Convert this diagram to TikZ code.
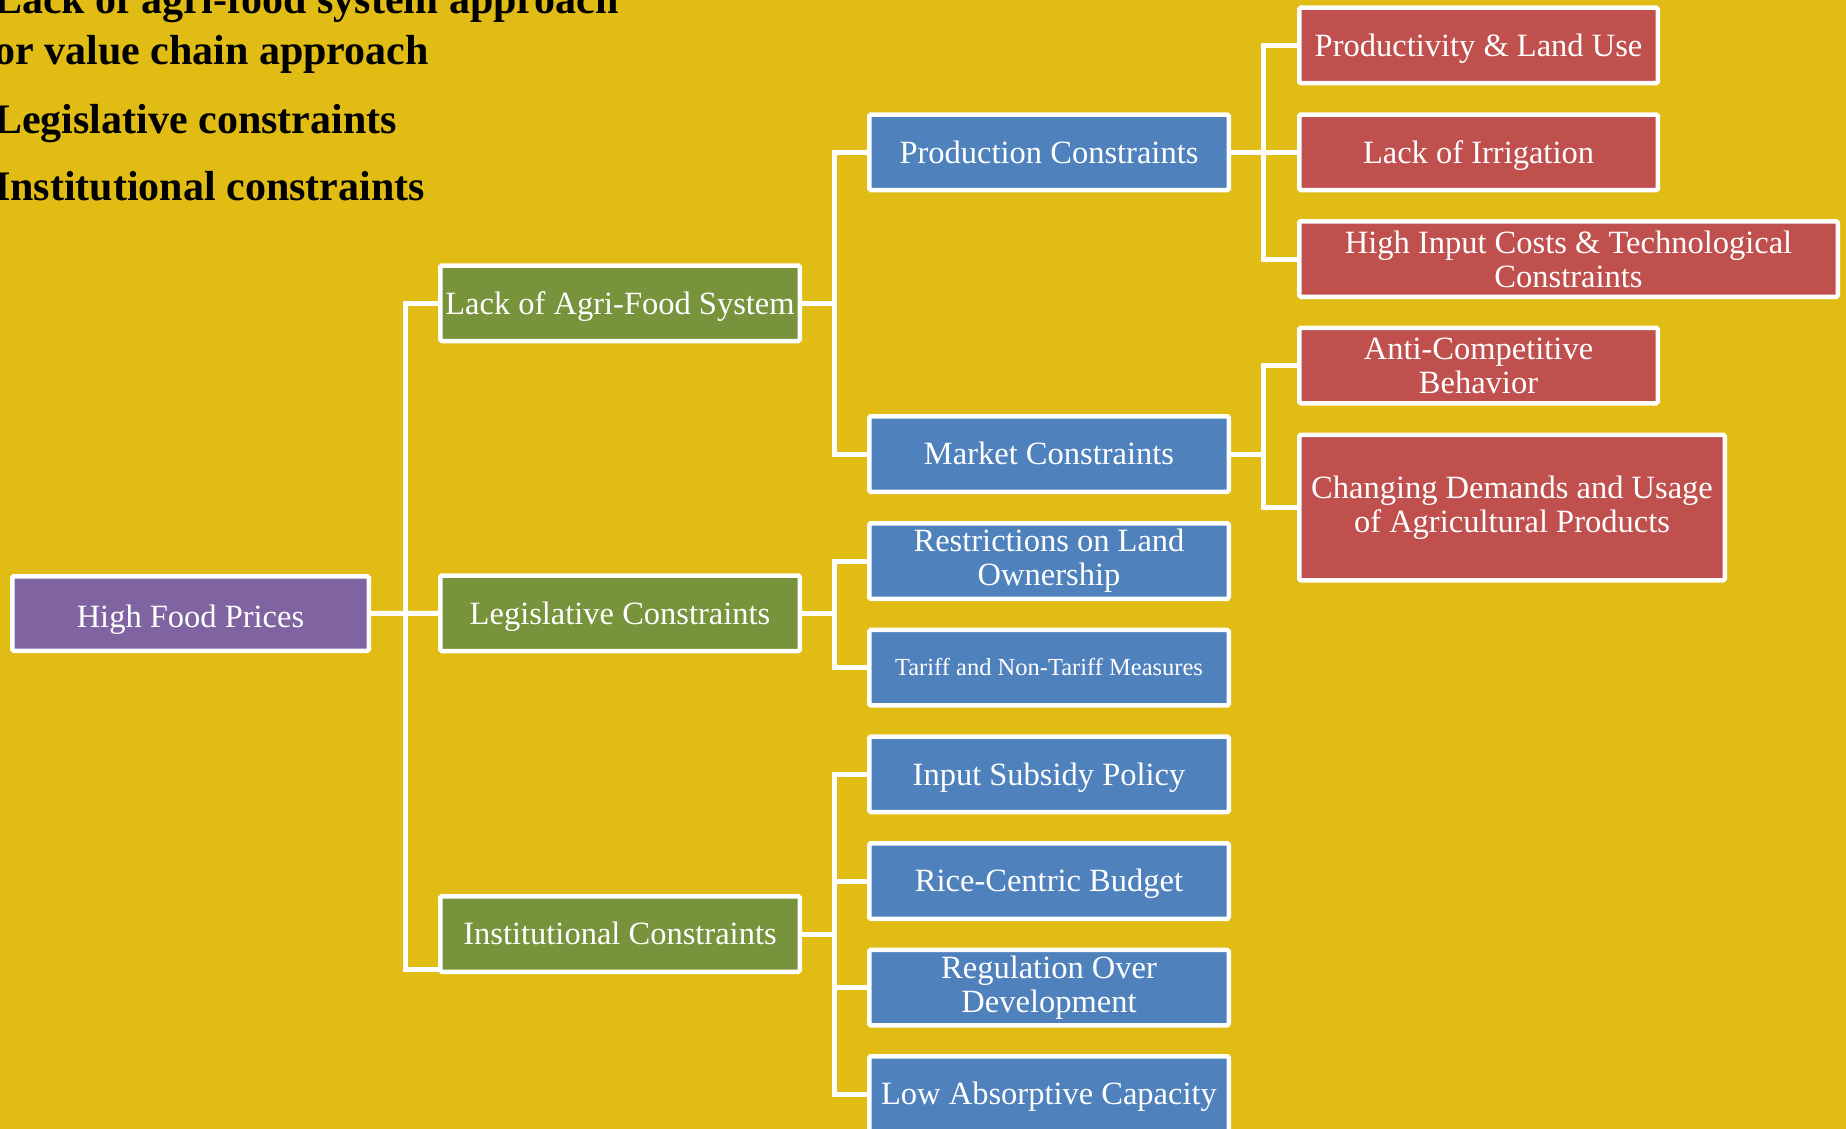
\documentclass[tikz,border=0pt]{standalone}
\usepackage{fontspec}
\setmainfont{Liberation Serif}

\definecolor{bgyellow}{HTML}{E0BC14}
\definecolor{rootpurple}{HTML}{8064A2}
\definecolor{catgreen}{HTML}{77933C}
\definecolor{subblue}{HTML}{4F81BD}
\definecolor{leafred}{HTML}{C0504D}

\newcommand{\diagfont}{\fontsize{32.5}{34}\selectfont}
\newcommand{\headfont}{\bfseries\fontsize{42}{48}\selectfont}

\tikzset{
    box/.style={draw=white, line width=4.5pt, rounded corners=1.5pt, text=white,
        inner sep=0pt, align=center, font=\diagfont,
        minimum width=359.5pt, minimum height=75.5pt},
    oneline/.style={text height=23pt, text depth=1.5pt},
    root/.style={box, fill=rootpurple, text height=30pt, text depth=1.5pt,
        minimum width=356.5pt, minimum height=74.5pt},
    cat/.style={box, oneline, fill=catgreen},
    sub/.style={box, fill=subblue},
    leaf/.style={box, fill=leafred, minimum width=358.5pt},
    link/.style={white, line width=5pt, line cap=rect, line join=miter},
    note/.style={anchor=base west, inner sep=0pt, font=\headfont}
}

\begin{document}
\begin{tikzpicture}[x=1pt, y=-1pt]
            \useasboundingbox (0,0) rectangle (1846,1129);
            \clip (0,0) rectangle (1846,1129);
            \fill[bgyellow] (0,0) rectangle (1846,1129);

            \node[note] (note1) at (-6,14) {Lack of agri-food system approach};
            \node[note] (note2) at (-6,65) {or value chain approach};
            \node[note] (note3) at (-6,133) {Legislative constraints};
            \node[note] (note4) at (-6,200) {Institutional constraints};

            \coordinate (j1) at (405,0);
            \coordinate (j2) at (834,0);
            \coordinate (j3) at (1263,0);

            \node[root] (hfp) at (190.5,613.5) {High Food Prices};

            \node[cat] (lack) at (620,303.3) {Lack of Agri-Food System};
            \node[cat] (leg) at (620,613.3) {Legislative Constraints};
            \node[cat] (inst) at (620,934) {Institutional Constraints};

            \node[sub, oneline] (prod) at (1049,152.3) {Production Constraints};
            \node[sub, oneline] (mkt) at (1049,454) {Market Constraints};
            \node[sub] (rest) at (1049,561) {Restrictions on Land\\Ownership};
            \node[sub, font=\fontsize{24.5}{26}\selectfont, text height=17.4pt, text depth=1.2pt] (tar) at (1049,667.7) {Tariff and Non-Tariff Measures};
            \node[sub, oneline] (inp) at (1049,774.3) {Input Subsidy Policy};
            \node[sub, oneline] (rice) at (1049,881) {Rice-Centric Budget};
            \node[sub] (reg) at (1049,987.5) {Regulation Over\\Development};
            \node[sub, oneline] (low) at (1049,1094) {Low Absorptive Capacity};

            \node[leaf, oneline] (produ) at (1478.5,45.5) {Productivity \& Land Use};
            \node[leaf, oneline] (irr) at (1478.5,152.3) {Lack of Irrigation};
            \node[leaf, minimum width=538.5pt] (hic) at (1568.5,259) {High Input Costs \& Technological\\Constraints};
            \node[leaf] (anti) at (1478.5,365.5) {Anti-Competitive\\Behavior};
            \node[leaf, minimum width=425.5pt, minimum height=145.5pt] (chg) at (1512,507.5) {Changing Demands and Usage\\of Agricultural Products};

            \draw[link] (hfp.east) -- (leg.west);
            \draw[link] (lack.west) -- (lack.west -| j1) |- ([yshift=5pt]inst.south west);

            \draw[link] (prod.west) -- (prod.west -| j2) |- (mkt.west);
            \draw[link] (lack.east) -- (lack.east -| j2);
            \draw[link] (rest.west) -- (rest.west -| j2) |- (tar.west);
            \draw[link] (leg.east) -- (leg.east -| j2);
            \draw[link] (inp.west) -- (inp.west -| j2) |- (low.west);
            \draw[link] (inst.east) -- (inst.east -| j2);
            \draw[link] (rice.west) -- (rice.west -| j2);
            \draw[link] (reg.west) -- (reg.west -| j2);

            \draw[link] (produ.west) -- (produ.west -| j3) |- (hic.west);
            \draw[link] (prod.east) -- (irr.west);
            \draw[link] (anti.west) -- (anti.west -| j3) |- (chg.west);
            \draw[link] (mkt.east) -- (mkt.east -| j3);
\end{tikzpicture}
\end{document}
